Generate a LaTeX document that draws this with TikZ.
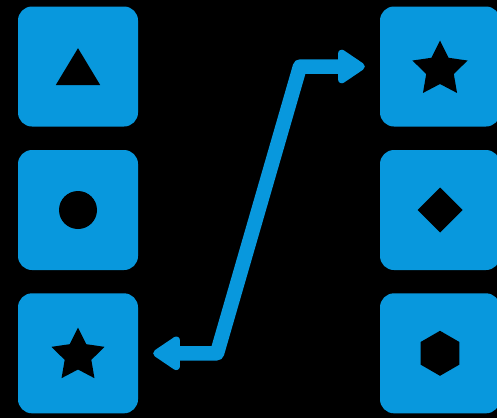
\documentclass[tikz,border=0pt]{standalone}
\usetikzlibrary{arrows.meta}
\definecolor{tileblue}{RGB}{8,152,221}
\tikzset{headtip/.tip={Triangle[round,length=30pt,width=38pt,line width=8pt]}}
\begin{document}
\begin{tikzpicture}[x=1pt,y=-1pt,
  tile/.style={rectangle, rounded corners=14pt, fill=tileblue, minimum size=120pt, inner sep=0pt},
  glyph/.style={fill=black},
  conn/.style={draw=tileblue, line width=14.5pt, line join=round, arrows={headtip-headtip}}
]
\fill[black] (0,0) rectangle (497,418);
\useasboundingbox (0,0) rectangle (497,418);
\clip (0,0) rectangle (497,418);
% tiles
\node[tile] (l1) at (78,66.5) {};
\node[tile] (l2) at (78,210) {};
\node[tile] (l3) at (78,353.3) {};
\node[tile] (r1) at (440,66.5) {};
\node[tile] (r2) at (440,210) {};
\node[tile] (r3) at (440,353.3) {};
% glyphs
\begin{scope}[shift={(l1.center)}]
  \fill[glyph] (0,-18.3) -- (22.2,18.5) -- (-22.2,18.5) -- cycle;
\end{scope}
\begin{scope}[shift={(l2.center)}]
  \fill[glyph] (0,0) circle (19pt);
\end{scope}
\begin{scope}[shift={(l3.center)}]
  \fill[glyph,shift={(0,2.2)}] (-90:28) -- (-54:14) -- (-18:28) -- (18:14) -- (54:28) -- (90:14) -- (126:28) -- (162:14) -- (198:28) -- (234:14) -- cycle;
\end{scope}
\begin{scope}[shift={(r1.center)}]
  \fill[glyph,shift={(0,3)}] (-90:29) -- (-54:14.5) -- (-18:29) -- (18:14.5) -- (54:29) -- (90:14.5) -- (126:29) -- (162:14.5) -- (198:29) -- (234:14.5) -- cycle;
\end{scope}
\begin{scope}[shift={(r2.center)}]
  \fill[glyph] (0,-22.5) -- (22.5,0) -- (0,22.5) -- (-22.5,0) -- cycle;
\end{scope}
\begin{scope}[shift={(r3.center)}]
  \fill[glyph] (-90:22.5) -- (-30:22.5) -- (30:22.5) -- (90:22.5) -- (150:22.5) -- (210:22.5) -- cycle;
\end{scope}
% connector
\coordinate (k1) at (217,353.3);
\coordinate (k2) at (300,66.5);
\draw[conn] ([xshift=15pt]l3.east) -- (k1) -- (k2) -- ([xshift=-15pt]r1.west);
\end{tikzpicture}
\end{document}
